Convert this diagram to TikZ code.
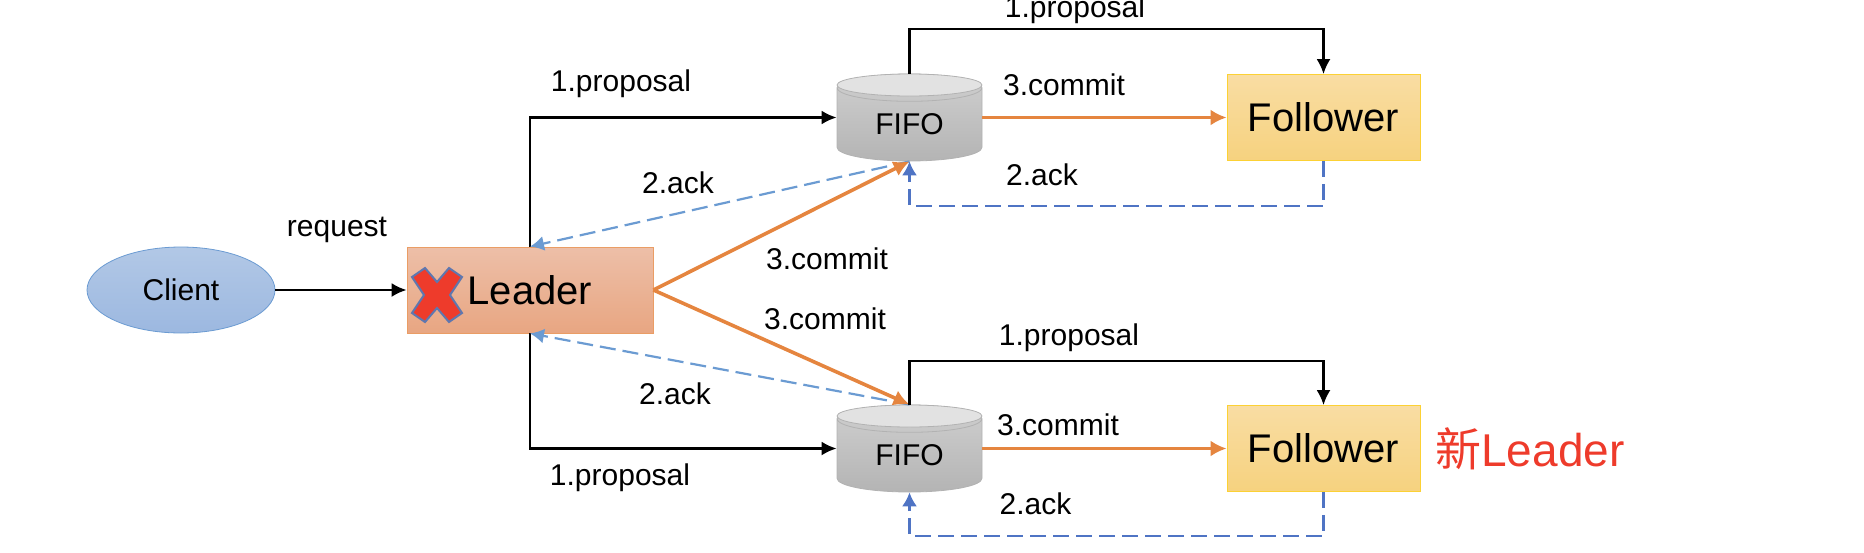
\documentclass[tikz,border=0pt]{standalone}
\usepackage{fontspec}
\setmainfont{Liberation Sans}
\newfontfamily\cjk{Noto Sans CJK SC}
\usetikzlibrary{arrows.meta,shapes.geometric}

\definecolor{ordercolor}{HTML}{E5853F}
\definecolor{ackcolor}{HTML}{6B9BD2}
\definecolor{backcolor}{HTML}{4F74C4}
\definecolor{redcolor}{HTML}{EE3B2B}
\definecolor{EDbox}{HTML}{EDBFA8}
\definecolor{EDend}{HTML}{E8A682}
\definecolor{FAbox}{HTML}{F9DDA3}
\definecolor{FAend}{HTML}{F6D27F}
\definecolor{CLbox}{HTML}{B2C8E6}
\definecolor{CLend}{HTML}{9CB8E0}
\definecolor{GRbox}{HTML}{CFCFCF}
\definecolor{GRend}{HTML}{B4B4B4}
\definecolor{GRtop}{HTML}{E2E2E2}

\tikzset{
    box/.style={draw, minimum width=96.5pt, minimum height=43pt, inner sep=0pt, font=\fontsize{20}{24}\selectfont},
    leaderbox/.style={box, minimum width=123pt, draw=ordercolor!80, top color=EDbox, bottom color=EDend},
    followerbox/.style={box, draw=yellow!60!orange!80, top color=FAbox, bottom color=FAend},
    clientnode/.style={draw=ackcolor, ellipse, minimum width=94pt, minimum height=43pt, inner sep=0pt, top color=CLbox, bottom color=CLend, font=\fontsize{15}{18}\selectfont},
    fifonode/.style={cylinder, shape border rotate=90, aspect=0.4, anchor=shape center, draw=gray!60, minimum width=72.5pt, minimum height=43.5pt, inner sep=0pt, top color=GRbox, bottom color=GRend, font=\fontsize{15}{18}\selectfont},
    fifotop/.style={draw=gray!60, fill=GRtop},
    label/.style={anchor=base, inner sep=0pt, font=\fontsize{15}{18}\selectfont},
    send/.style={draw, line width=1.2pt, -{Latex[length=7.5pt,width=7pt]}},
    commit/.style={draw=ordercolor, line width=1.8pt, -{Latex[length=8pt,width=8pt]}},
    ack/.style={draw=ackcolor, line width=1.1pt, dash pattern=on 8pt off 3.5pt, -{Latex[length=7pt,width=7.5pt]}},
    back/.style={ack, draw=backcolor}
}

\begin{document}
\begin{tikzpicture}[x=0.5pt, y=-0.5pt]
    \useasboundingbox (0,0) rectangle (1864,552);

    \node[clientnode] (client) at (181,290) {Client};
    \node[leaderbox] (leader) at (530,290) {Leader};
    \draw[send] (client) to (leader);
    \node[label] (request) at (337,236) {request};

    % cross over the leader
    \draw[fill=redcolor, draw=backcolor!70!gray, line width=1pt, shift={(437,295)}]
        (-12,-27) -- (0,-13) -- (12,-27) -- (25,-18) -- (13,0) -- (25,18) -- (12,27) -- (0,13) -- (-12,27) -- (-25,18) -- (-13,0) -- (-25,-18) -- cycle;

    % upper branch
    \def \rowy {117.5}
    \node[fifonode] (fifoA) at (909.5,\rowy) {FIFO};
    \draw[fifotop] (909.5,85) ellipse (72.5 and 11);
    \node[followerbox] (followerA) at (1323.5,\rowy) {Follower};
    \coordinate (topA) at (1323.5,29);
    \coordinate (ackA) at (909.5,206);
    \draw[send] (leader.north) |- (fifoA.west |- followerA.west);
    \draw[send] (fifoA.north) |- (topA) to (followerA.north);
    \draw[commit] (fifoA.east |- followerA.west) to (followerA.west);
    \draw[ack] (fifoA.south) to (leader.north);
    \draw[commit] (leader.east) to (fifoA.south);
    \draw[back] (followerA.south) |- (ackA) to (fifoA.south);
    \node[label] (proposalA) at (621,91) {1.proposal};
    \node[label] (proposalTopA) at (1075,17) {1.proposal};
    \node[label] (commitA) at (1064,95) {3.commit};
    \node[label] (commitLeaderA) at (827,269) {3.commit};
    \node[label] (ackLeaderA) at (678,193) {2.ack};
    \node[label] (ackFollowerA) at (1042,185) {2.ack};

    % lower branch
    \def \rowy {448.5}
    \node[fifonode] (fifoB) at (909.5,\rowy) {FIFO};
    \draw[fifotop] (909.5,416) ellipse (72.5 and 11);
    \node[followerbox] (followerB) at (1323.5,\rowy) {Follower};
    \coordinate (topB) at (1323.5,361);
    \coordinate (ackB) at (909.5,536);
    \draw[send] (leader.south) |- (fifoB.west |- followerB.west);
    \draw[ack] (fifoB.north) to (leader.south);
    \draw[commit] (leader.east) to (fifoB.north);
    \draw[send] (fifoB.north) |- (topB) to (followerB.north);
    \draw[commit] (fifoB.east |- followerB.west) to (followerB.west);
    \draw[back] (followerB.south) |- (ackB) to (fifoB.south);
    \node[label] (proposalB) at (620,485) {1.proposal};
    \node[label] (proposalTopB) at (1069,345) {1.proposal};
    \node[label] (commitB) at (1058,435) {3.commit};
    \node[label] (commitLeaderB) at (825,329) {3.commit};
    \node[label] (ackLeaderB) at (675,404) {2.ack};
    \node[label] (ackFollowerB) at (1035.5,514) {2.ack};

    \node[anchor=base, inner sep=0pt, text=redcolor, font=\fontsize{23}{28}\selectfont] (newleader) at (1530,466) {{\cjk 新}Leader};
\end{tikzpicture}
\end{document}
